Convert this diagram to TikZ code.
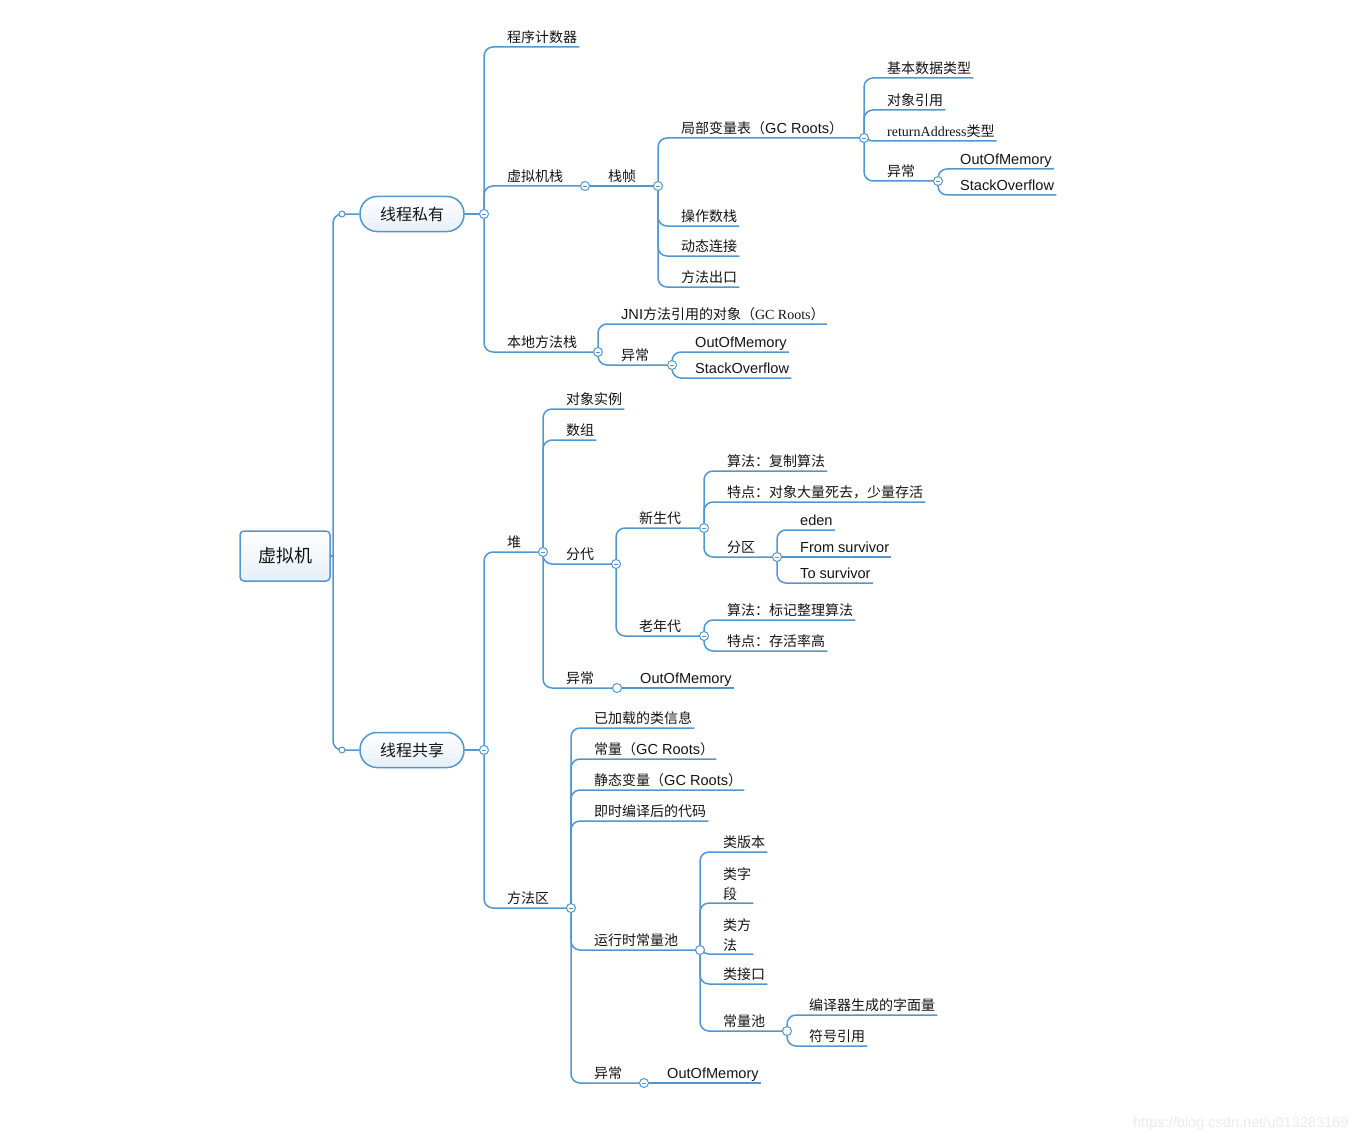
\documentclass[tikz,border=0pt]{standalone}
\usepackage{fontspec}
\setmainfont{Noto Sans CJK SC}
\newfontfamily\enfont[Scale=1.04]{Liberation Sans}
\newfontfamily\timesfont{Liberation Serif}
\definecolor{mapblue}{RGB}{82,150,208}

\begin{document}
\begin{tikzpicture}[x=1pt,y=-1pt,
  link/.style={mapblue,line width=1.5pt,rounded corners=9pt},
  topic/.style={anchor=south west,inner xsep=2pt,inner ysep=4pt,text depth=0pt,text=black!92,font=\fontsize{14}{20}\selectfont},
  topictwo/.style={anchor=south west,inner xsep=2pt,inner ysep=2.5pt,align=left,text=black!92,font=\fontsize{14}{20}\selectfont},
  pill/.style={draw=mapblue,line width=1.5pt,rounded corners=17pt,top color=white,bottom color=mapblue!15,minimum width=104pt,minimum height=35pt,text=black!92,font=\fontsize{16}{18}\selectfont}]
  \useasboundingbox (0,0) rectangle (1359,1142);

  % root
  \node[draw=mapblue,line width=1.5pt,rounded corners=4pt,top color=white,bottom color=mapblue!15,minimum width=90pt,minimum height=50pt,text=black!92,font=\fontsize{18}{20}\selectfont] (vm) at (285,556) {虚拟机};
  \node[pill] (pri) at (412,214) {线程私有};
  \node[pill] (pub) at (412,750) {线程共享};
  \coordinate (trunk) at (333,556);
  \draw[link] (vm.east) -- (trunk);
  \draw[link] (trunk) |- (pri.west);
  \draw[link] (trunk) |- (pub.west);
  \draw[mapblue,line width=1pt,fill=white] (342,214) circle (3pt) (342,750) circle (3pt);

  % fold points
  \coordinate (fp) at (484,214);
  \coordinate (fs) at (484,750);
  \coordinate (fvs) at (585,186);
  \coordinate (fzz) at (658,186);
  \coordinate (fjb) at (864,138);
  \coordinate (fjyc) at (938,181);
  \coordinate (fbd) at (598,352);
  \coordinate (fbyc) at (672,365);
  \coordinate (fheap) at (543,552);
  \coordinate (ffd) at (616,564);
  \coordinate (fxs) at (704,528);
  \coordinate (flao) at (704,636);
  \coordinate (ffq) at (777,557);
  \coordinate (fhyc) at (617,688);
  \coordinate (fff) at (571,908);
  \coordinate (fyx) at (700,950);
  \coordinate (fclc) at (787,1031);
  \coordinate (ffyc) at (644,1083);

  % 线程私有
  \draw[link] (pri.east) -- (fp);
  \node[topic] (pc) at (505,47) {程序计数器};
  \node[topic] (vstack) at (505,186) {虚拟机栈};
  \node[topic] (nstack) at (505,352) {本地方法栈};
  \draw[link] (fp) |- (pc.south east);
  \draw[link] (fp) |- (fvs);
  \draw[link] (fp) |- (fbd);

  \node[topic] (frame) at (606,186) {栈帧};
  \draw[link] (fvs) -- (fzz);
  \node[topic] (lvt) at (679,138) {局部变量表（{\enfont GC Roots}）};
  \node[topic] (ops) at (679,226) {操作数栈};
  \node[topic] (dyn) at (679,256) {动态连接};
  \node[topic] (ret) at (679,287) {方法出口};
  \draw[link] (fzz) |- (fjb);
  \draw[link] (fzz) |- (ops.south east);
  \draw[link] (fzz) |- (dyn.south east);
  \draw[link] (fzz) |- (ret.south east);

  \node[topic] (prim) at (885,78) {基本数据类型};
  \node[topic] (oref) at (885,110) {对象引用};
  \node[topic] (raddr) at (885,141) {{\timesfont returnAddress}类型};
  \node[topic] (lexc) at (885,181) {异常};
  \draw[link] (fjb) |- (prim.south east);
  \draw[link] (fjb) |- (oref.south east);
  \draw[link] (fjb) |- (raddr.south east);
  \draw[link] (fjb) |- (fjyc);
  \node[topic] (loom) at (958,169) {\enfont OutOfMemory};
  \node[topic] (lsof) at (958,195) {\enfont StackOverflow};
  \draw[link] (fjyc) |- (loom.south east);
  \draw[link] (fjyc) |- (lsof.south east);

  \node[topic] (jni) at (619,324) {{\enfont JNI}方法引用的对象（{\timesfont GC Roots}）};
  \node[topic] (nexc) at (619,365) {异常};
  \draw[link] (fbd) |- (jni.south east);
  \draw[link] (fbd) |- (fbyc);
  \node[topic] (noom) at (693,352) {\enfont OutOfMemory};
  \node[topic] (nsof) at (693,378) {\enfont StackOverflow};
  \draw[link] (fbyc) |- (noom.south east);
  \draw[link] (fbyc) |- (nsof.south east);

  % 线程共享
  \draw[link] (pub.east) -- (fs);
  \node[topic] (heap) at (505,552) {堆};
  \node[topic] (marea) at (505,908) {方法区};
  \draw[link] (fs) |- (fheap);
  \draw[link] (fs) |- (fff);

  \node[topic] (obj) at (564,409) {对象实例};
  \node[topic] (arr) at (564,440) {数组};
  \node[topic] (gen) at (564,564) {分代};
  \node[topic] (hexc) at (564,688) {异常};
  \node[topic] (hoom) at (638,688) {\enfont OutOfMemory};
  \draw[link] (fheap) |- (obj.south east);
  \draw[link] (fheap) |- (arr.south east);
  \draw[link] (fheap) |- (ffd);
  \draw[link] (fheap) |- (fhyc);
  \draw[link] (fhyc) -- (hoom.south east);

  \node[topic] (young) at (637,528) {新生代};
  \node[topic] (old) at (637,636) {老年代};
  \draw[link] (ffd) |- (fxs);
  \draw[link] (ffd) |- (flao);
  \node[topic] (yalg) at (725,471) {算法：复制算法};
  \node[topic] (yfeat) at (725,502) {特点：对象大量死去，少量存活};
  \node[topic] (zone) at (725,557) {分区};
  \draw[link] (fxs) |- (yalg.south east);
  \draw[link] (fxs) |- (yfeat.south east);
  \draw[link] (fxs) |- (ffq);
  \node[topic] (eden) at (798,530) {\enfont eden};
  \node[topic] (from) at (798,557) {\enfont From survivor};
  \node[topic] (to) at (798,583) {\enfont To survivor};
  \draw[link] (ffq) |- (eden.south east);
  \draw[link] (ffq) -- (from.south east);
  \draw[link] (ffq) |- (to.south east);
  \node[topic] (oalg) at (725,620) {算法：标记整理算法};
  \node[topic] (ofeat) at (725,651) {特点：存活率高};
  \draw[link] (flao) |- (oalg.south east);
  \draw[link] (flao) |- (ofeat.south east);

  \node[topic] (cls) at (592,728) {已加载的类信息};
  \node[topic] (const) at (592,759) {常量（{\enfont GC Roots}）};
  \node[topic] (static) at (592,790) {静态变量（{\enfont GC Roots}）};
  \node[topic] (jit) at (592,821) {即时编译后的代码};
  \node[topic] (rcp) at (592,950) {运行时常量池};
  \node[topic] (mexc) at (592,1083) {异常};
  \node[topic] (moom) at (665,1083) {\enfont OutOfMemory};
  \draw[link] (fff) |- (cls.south east);
  \draw[link] (fff) |- (const.south east);
  \draw[link] (fff) |- (static.south east);
  \draw[link] (fff) |- (jit.south east);
  \draw[link] (fff) |- (fyx);
  \draw[link] (fff) |- (ffyc);
  \draw[link] (ffyc) -- (moom.south east);

  \node[topic] (ver) at (721,852) {类版本};
  \node[topictwo] (fld) at (721,903) {类字\\段};
  \node[topictwo] (mth) at (721,954) {类方\\法};
  \node[topic] (itf) at (721,984) {类接口};
  \node[topic] (pool) at (721,1031) {常量池};
  \draw[link] (fyx) |- (ver.south east);
  \draw[link] (fyx) |- (fld.south east);
  \draw[link] (fyx) |- (mth.south east);
  \draw[link] (fyx) |- (itf.south east);
  \draw[link] (fyx) |- (fclc);
  \node[topic] (lit) at (807,1015) {编译器生成的字面量};
  \node[topic] (sym) at (807,1046) {符号引用};
  \draw[link] (fclc) |- (lit.south east);
  \draw[link] (fclc) |- (sym.south east);

  % fold marks
  \foreach \f in {fp,fs,fvs,fzz,fjb,fjyc,fbd,fbyc,fheap,ffd,fxs,flao,ffq,fff,ffyc}{
    \draw[mapblue,line width=1pt,fill=white] (\f) circle (4.5pt);
    \draw[mapblue,line width=0.8pt] ([xshift=-2.3pt]\f) -- ([xshift=2.3pt]\f);
  }
  \foreach \f in {fhyc,fyx,fclc}
    \draw[mapblue,line width=1pt,fill=white] (\f) circle (4.5pt);

  \node[anchor=east,text=black!8,font=\enfont\fontsize{14}{16}\selectfont] (mark) at (1352,1124) {https://blog.csdn.net/u013283169};
\end{tikzpicture}
\end{document}
